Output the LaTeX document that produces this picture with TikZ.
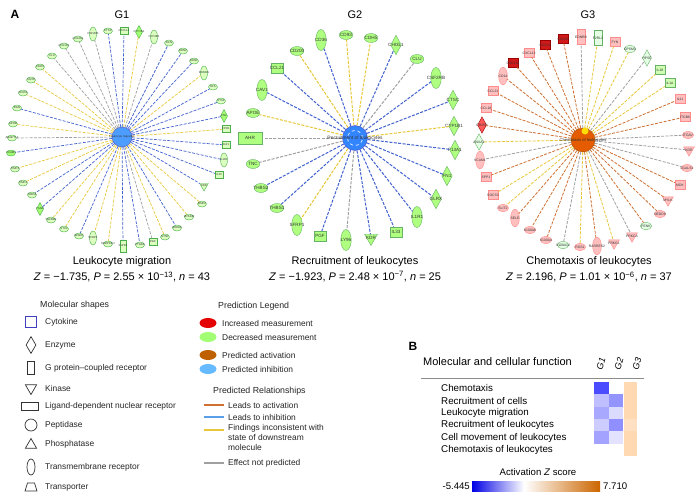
\documentclass[tikz,border=0pt]{standalone}
\usepackage{fontspec}
\setmainfont{Liberation Sans}
\usetikzlibrary{shapes.geometric}
\definecolor{cB}{HTML}{4262D2}
\definecolor{cY}{HTML}{E8C83A}
\definecolor{cG}{HTML}{A0A0A0}
\definecolor{cO}{HTML}{D07030}
\definecolor{cLB}{HTML}{5AA0E8}
\def\gs{1}\def\gf{3}\def\lw{0.7pt}
\tikzset{
  gn/.style={draw, line width=0.4pt, inner sep=0pt, outer sep=0pt},
  gt/.style={font=\fontsize{\gf}{\gf}\selectfont, text=black!80, inner sep=0pt},
  sO/.style={ellipse, minimum width=9*\gs pt, minimum height=6*\gs pt},
  sC/.style={rectangle, minimum width=8*\gs pt, minimum height=7*\gs pt},
  sE/.style={diamond, minimum width=7*\gs pt, minimum height=13*\gs pt},
  sG/.style={rectangle, minimum width=6*\gs pt, minimum height=12*\gs pt},
  sK/.style={regular polygon, regular polygon sides=3, shape border rotate=180, minimum size=10*\gs pt},
  sN/.style={rectangle, minimum width=16*\gs pt, minimum height=8*\gs pt},
  sT/.style={ellipse, minimum width=7*\gs pt, minimum height=14*\gs pt},
  kl/.style={fill=green!45!lime!25!white, draw=green!55!black!70},
  kd/.style={fill=green!55!lime!55!white, draw=green!55!black!70},
  k2/.style={fill=green!50!lime!50!white, draw=green!50!black!60},
  kp/.style={fill=red!25!white, draw=red!45!white},
  kr/.style={fill=red!80!black!90, draw=red!60!black},
  km/.style={fill=red!65!white, draw=red!60!black},
  kg/.style={fill=green!50!lime!30!white, draw=green!50!black!60},
  kw/.style={fill=green!10!white, draw=green!50!black!60},
  eB/.style={draw=cB, line width=\lw, dash pattern=on 3pt off 1.4pt},
  eY/.style={draw=cY, line width=\lw, dash pattern=on 3pt off 1.4pt},
  eG/.style={draw=cG, line width=\lw, dash pattern=on 3pt off 1.4pt},
  eO/.style={draw=cO, line width=\lw, dash pattern=on 3pt off 1.4pt},
  lgt/.style={font=\fontsize{8.4}{10}\selectfont, anchor=west, inner sep=0pt, text=black!85},
  ttl/.style={font=\fontsize{11}{13}\selectfont},
  rowt/.style={font=\fontsize{9.8}{11}\selectfont, anchor=west, inner sep=0pt},
  lsh/.style={draw=black!80, line width=0.7pt, inner sep=0pt, fill=white}
}
\begin{document}
\begin{tikzpicture}[x=1pt,y=-1pt]
\useasboundingbox (0,0) rectangle (700,503);
\fill[white] (0,0) rectangle (700,503);
% titles
\node[font=\bfseries\fontsize{12}{14}\selectfont] (lA) at (15,14) {A};
\node[ttl] (t1) at (122,15) {G1};
\node[ttl] (t2) at (355,15) {G2};
\node[ttl] (t3) at (588,15) {G3};
% ---------------- G1
\begin{scope}
\def\gs{1}\def\gf{2.8}\def\lw{0.7pt}
\node[circle, fill=blue!55!cyan!70!white, draw=blue!60!black!70, minimum size=20pt, inner sep=0pt] (g1c) at (122,137) {};
\foreach \n/\x/\y/\s/\e/\f in {CSF2RB/93/34/sT/eG/kl, CTSC/108/31/sO/eB/kl, CXCL14/124/31/sC/eB/kl, CYP1B1/139/32/sE/eY/kd, CYP4B1/154/37/sT/eG/kl, DCN/169/43/sO/eB/kl, EDN2/183/51/sO/eB/kl, EDN1/194/61/sO/eB/kl, EDNRA/204/73/sT/eY/kl, EFS/213/87/sO/eB/kl, ETS1/221/101/sO/eB/kl, FN1/224/116/sE/eB/kd, FPR1/226/129/sC/eY/kl, IGF1/226/145/sC/eB/kl, IL1R1/224/160/sT/eB/kl, IL33/219/175/sC/eB/kl, KDR/204/186/sK/eB/kl, MMP2/202/204/sO/eY/kl, MYADM/189/217/sO/eY/kl, NEDD9/177/228/sO/eB/kl, NT5E/165/237/sO/eY/kl, PGF/153/242/sC/eG/kl, PTGDS/140/245/sO/eB/kl, S1PR1/123/246/sG/eB/kl, SERPINF1/108/244/sO/eY/kl, SFRP1/93/238/sT/eY/kl, SPARC/79/236/sO/eB/kl, STC1/64/229/sO/eY/kl, TGFBR2/51/220/sO/eY/kl, TGM2/40/209/sE/eB/kd, THBS1/32/195/sO/eB/kl, TIMP2/23/183/sO/eY/kl, TIMP3/15/169/sO/eY/kl, VCAM1/11/153/sO/eB/kd, ANGPTL2/12/138/sO/eG/kl, APOE/13/124/sO/eY/kl, BGN/17/108/sO/eB/kl, CD200/23/93/sO/eY/kl, CD36/31/80/sO/eY/kl, CDH5/40/67/sO/eY/kl, CLU/52/56/sO/eG/kl, COL1A1/64/46/sO/eG/kl, COL4A1/78/39/sO/eG/kl}{
  \node[gn,\s,\f,label={[gt]center:\n}] (g1\n) at (\x,\y) {};
  \draw[\e] (g1c) -- (g1\n);
}
\node[gt, font=\fontsize{2.8}{3}\selectfont] (g1cl) at (122,137) {Leukocyte migration};
\end{scope}
% ---------------- G2
\begin{scope}
\def\gs{1.5}\def\gf{4.6}\def\lw{1pt}
\node[circle, fill=blue!60!cyan!80!white, draw=blue!70!black!70, minimum size=25pt, inner sep=0pt] (g2c) at (355,138) {};
\node[circle, draw=white, dashed, line width=0.6pt, minimum size=15pt, inner sep=0pt] (g2r) at (355,138) {};
\foreach \n/\x/\y/\s/\e in {CD36/321/40/sT/eB, CD93/346/35/sO/eY, CDH5/371/38/sO/eY, CHI3L1/396/45/sE/eB, CLU/417/59/sO/eG, CSF2RB/436/78/sT/eB, CTSC/453/100/sE/eB, CYP1B1/454/126/sE/eY, F13A1/455/150/sE/eB, FN1/447/176/sE/eB, GLRX/436/199/sE/eB, IL1R1/417/217/sT/eB, IL33/396/232/sC/eB, KDR/371/238/sK/eB, LY96/346/240/sT/eG, PGF/320/236/sC/eB, SFRP1/297/225/sT/eY, THBS1/277/208/sO/eB, THBS2/261/188/sO/eB, TNC/253/164/sO/eG, AHR/250/138/sN/eG, APOE/253/113/sO/eY, CAV1/262/90/sT/eB, CCL21/277/68/sC/eB, CD200/297/51/sO/eY}{
  \node[gn,\s,k2,label={[gt]center:\n}] (g2\n) at (\x,\y) {};
  \draw[\e] (g2c) -- (g2\n);
}
\node[gt, font=\fontsize{4.8}{5}\selectfont] (g2cl) at (355,138) {Recruitment of leukocytes};
\end{scope}
% ---------------- G3
\begin{scope}
\def\gs{1.25}\def\gf{3.4}\def\lw{0.8pt}
\node[circle, fill=orange!80!red!90!black, draw=orange!60!black, minimum size=24pt, inner sep=0pt] (g3c) at (583,140) {};
\node[circle, fill=yellow!80!orange, minimum size=7pt, inner sep=0pt] (g3y) at (585,131) {};
\foreach \n/\x/\y/\s/\e/\f in {EDNRB/581/37/sG/eG/kp, F2RL1/598/38/sG/eY/kw, FYN/615/42/sC/eY/kp, GPSM1/630/49/sO/eY/kw, HPSE/647/58/sE/eG/kw, IL18/660/70/sC/eY/kg, IL1A/670/83/sC/eY/kg, IL11/680/99/sC/eO/kp, ITGB6/685/117/sC/eO/kp, ITGAV/688/135/sO/eG/kp, KDR/689/150/sK/eG/kp, LGALS1/687/168/sO/eG/kp, MDK/680/185/sC/eO/kp, MYLK/668/200/sK/eO/kp, NEDD9/660/214/sO/eO/kp, PENK/646/226/sO/eO/kw, PRKCA/632/236/sK/eG/kp, PRKG1/614/243/sK/eY/kp, RARRES2/597/246/sT/eO/kp, RGS1/580/247/sO/eY/kp, S100A12/563/245/sO/eG/kw, S100A4/546/240/sO/eO/kp, S100A6/530/230/sO/eO/kp, SELE/515/218/sT/eO/kp, SLIT2/503/208/sO/eY/kp, SOCS3/493/195/sC/eY/kp, SPP1/486/177/sC/eO/kp, VCAM1/480/160/sT/eG/kp, ANXA1/479/142/sE/eY/kw, CH25H/482/125/sE/eO/km, CCL18/486/108/sC/eO/kp, CCL21/493/91/sC/eO/kp, CD14/503/76/sT/eO/kp, CXCL11/513/63/sC/eO/kr, CXCL13/529/53/sC/eO/kp, CXCL9/545/45/sC/eO/kr, CXCL6/563/39/sC/eO/kr}{
  \node[gn,\s,\f,label={[gt]center:\n}] (g3\n) at (\x,\y) {};
  \draw[\e] (g3c) -- (g3\n);
}
\node[gt, font=\fontsize{4.1}{5}\selectfont] (g3cl) at (583,140) {Chemotaxis of leukocytes};
\end{scope}
% captions
\node[ttl] (c1a) at (122,262) {Leukocyte migration};
\node[ttl] (c1b) at (122,277) {\textit{Z} = −1.735, \textit{P} = 2.55 × 10\textsuperscript{−13}, \textit{n} = 43};
\node[ttl] (c2a) at (355,262) {Recruitment of leukocytes};
\node[ttl] (c2b) at (355,277) {\textit{Z} = −1.923, \textit{P} = 2.48 × 10\textsuperscript{−7}, \textit{n} = 25};
\node[ttl] (c3a) at (589,262) {Chemotaxis of leukocytes};
\node[ttl] (c3b) at (589,277) {\textit{Z} = 2.196, \textit{P} = 1.01 × 10\textsuperscript{−6}, \textit{n} = 37};
% molecular shapes legend
\node[lgt, font=\fontsize{8.8}{10}\selectfont] (ms) at (40,305) {Molecular shapes};
\node[lsh, draw=blue!50!gray, rectangle, minimum width=11pt, minimum height=11pt] (m1) at (31,322) {};
\node[lgt] (m1t) at (45,322) {Cytokine};
\node[lsh, diamond, minimum width=10pt, minimum height=17pt] (m2) at (31,345) {};
\node[lgt] (m2t) at (45,345) {Enzyme};
\node[lsh, rectangle, minimum width=7pt, minimum height=13pt] (m3) at (31,368) {};
\node[lgt] (m3t) at (45,368) {G protein–coupled receptor};
\node[lsh, regular polygon, regular polygon sides=3, shape border rotate=180, minimum size=13pt] (m4) at (31,388) {};
\node[lgt] (m4t) at (45,388) {Kinase};
\node[lsh, rectangle, minimum width=17pt, minimum height=8pt] (m5) at (30,406) {};
\node[lgt] (m5t) at (45,406) {Ligand-dependent nuclear receptor};
\node[lsh, circle, minimum size=12pt] (m6) at (31,425) {};
\node[lgt] (m6t) at (45,425) {Peptidase};
\node[lsh, regular polygon, regular polygon sides=3, minimum size=13pt] (m7) at (31,445) {};
\node[lgt] (m7t) at (45,444) {Phosphatase};
\node[lsh, ellipse, minimum width=8pt, minimum height=16pt] (m8) at (31,467) {};
\node[lgt] (m8t) at (45,467) {Transmembrane receptor};
\coordinate (m9) at (31,487);
\draw[black!80, line width=0.7pt, fill=white] ([shift={(-6,4)}]m9) -- ([shift={(-3.5,-4)}]m9) -- ([shift={(3.5,-4)}]m9) -- ([shift={(6,4)}]m9) -- cycle;
\node[lgt] (m9t) at (45,487) {Transporter};
% prediction legend
\node[lgt, font=\fontsize{8.8}{10}\selectfont] (pl) at (218,306) {Prediction Legend};
\node[ellipse, fill=red!90!black, minimum width=17pt, minimum height=10pt, inner sep=0pt] (p1) at (208,323) {};
\node[lgt] (p1t) at (222,323) {Increased measurement};
\node[ellipse, fill=green!55!lime!55!white, minimum width=17pt, minimum height=10pt, inner sep=0pt] (p2) at (208,337) {};
\node[lgt] (p2t) at (222,337) {Decreased measurement};
\node[ellipse, fill=orange!75!black, minimum width=17pt, minimum height=10pt, inner sep=0pt] (p3) at (208,355) {};
\node[lgt] (p3t) at (222,355) {Predicted activation};
\node[ellipse, fill=blue!45!cyan!60!white, minimum width=17pt, minimum height=10pt, inner sep=0pt] (p4) at (208,369) {};
\node[lgt] (p4t) at (222,369) {Predicted inhibition};
\node[lgt, font=\fontsize{8.8}{10}\selectfont] (pr) at (213,391) {Predicted Relationships};
\coordinate (r1a) at (204,405); \coordinate (r1b) at (224,405);
\draw[cO, line width=1.6pt] (r1a) -- (r1b);
\node[lgt] (r1t) at (228,405) {Leads to activation};
\coordinate (r2a) at (204,417); \coordinate (r2b) at (224,417);
\draw[cLB, line width=1.6pt] (r2a) -- (r2b);
\node[lgt] (r2t) at (228,417) {Leads to inhibition};
\coordinate (r3a) at (204,430); \coordinate (r3b) at (224,430);
\draw[cY, line width=1.6pt] (r3a) -- (r3b);
\node[lgt, align=left, anchor=north west] (r3t) at (228,424.5) {Findings inconsistent with\\state of downstream\\molecule};
\coordinate (r4a) at (204,463); \coordinate (r4b) at (224,463);
\draw[cG, line width=1.6pt] (r4a) -- (r4b);
\node[lgt] (r4t) at (228,463) {Effect not predicted};
% panel B
\node[font=\bfseries\fontsize{12}{14}\selectfont] (lB) at (413,346) {B};
\node[font=\fontsize{11}{13}\selectfont, anchor=west, inner sep=0pt] (mcf) at (423,362) {Molecular and cellular function};
\coordinate (hl1) at (421,378); \coordinate (hl2) at (644,378);
\draw[black!45, line width=1pt] (hl1) -- (hl2);
\node[font=\itshape\fontsize{9}{10}\selectfont, rotate=75, inner sep=0pt] (hg1) at (601,364) {G1};
\node[font=\itshape\fontsize{9}{10}\selectfont, rotate=75, inner sep=0pt] (hg2) at (619,364) {G2};
\node[font=\itshape\fontsize{9}{10}\selectfont, rotate=75, inner sep=0pt] (hg3) at (637,364) {G3};
\def\rh{12.33}
\fill[blue!70!white] (594,382) rectangle ++(15,\rh);
\fill[blue!25!white] (594,382+\rh) rectangle ++(15,\rh);
\fill[blue!34!white] (594,382+2*\rh) rectangle ++(15,\rh);
\fill[blue!20!white] (594,382+3*\rh) rectangle ++(15,\rh);
\fill[blue!36!white] (594,382+4*\rh) rectangle ++(15,\rh);
\fill[blue!42!white] (609,382+\rh) rectangle ++(14,\rh);
\fill[blue!14!white] (609,382+2*\rh) rectangle ++(14,\rh);
\fill[blue!44!white] (609,382+3*\rh) rectangle ++(14,\rh);
\fill[blue!11!white] (609,382+4*\rh) rectangle ++(14,\rh);
\fill[orange!30!white] (624,382) rectangle ++(13,3*\rh);
\fill[orange!24!white] (624,382+3*\rh) rectangle ++(13,\rh);
\fill[orange!30!white] (624,382+4*\rh) rectangle ++(13,2*\rh);
\node[rowt] (b1) at (441,388) {Chemotaxis};
\node[rowt] (b2) at (441,400.5) {Recruitment of cells};
\node[rowt] (b3) at (441,413) {Leukocyte migration};
\node[rowt] (b4) at (441,425) {Recruitment of leukocytes};
\node[rowt] (b5) at (441,437.5) {Cell movement of leukocytes};
\node[rowt] (b6) at (441,450) {Chemotaxis of leukocytes};
\node[font=\fontsize{9.6}{11}\selectfont] (az) at (538,472) {Activation \textit{Z} score};
\shade[left color=blue!90!black, right color=white] (472,481) rectangle (524,491);
\shade[left color=white, right color=orange!80!black] (524,481) rectangle (600,491);
\node[font=\fontsize{9.6}{11}\selectfont, anchor=east, inner sep=0pt] (az1) at (470,486) {-5.445};
\node[font=\fontsize{9.6}{11}\selectfont, anchor=west, inner sep=0pt] (az2) at (603,486) {7.710};
\end{tikzpicture}
\end{document}
